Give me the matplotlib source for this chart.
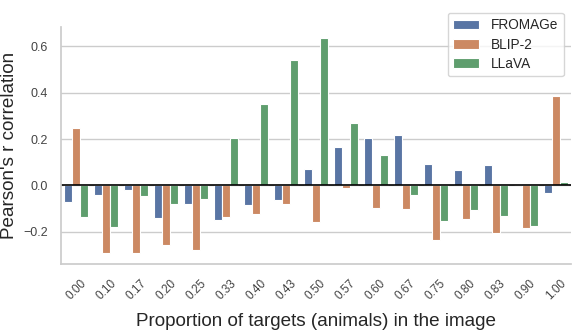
import numpy as np
import pandas as pd
import matplotlib
matplotlib.use("Agg")
import matplotlib.pyplot as plt
import seaborn as sns

# Correlation per proportion bucket
proportions = ["0.00", "0.10", "0.17", "0.20", "0.25", "0.33", "0.40", "0.43", "0.50",
               "0.57", "0.60", "0.67", "0.75", "0.80", "0.83", "0.90", "1.00"]
fromage = [-0.069, -0.040, -0.019, -0.138, -0.081, -0.148, -0.085, -0.063, 0.072,
           0.165, 0.203, 0.217, 0.091, 0.066, 0.089, 0.0, -0.032]
blip2 = [0.249, -0.289, -0.292, -0.256, -0.276, -0.135, -0.122, -0.078, -0.157,
         -0.010, -0.095, -0.099, -0.236, -0.145, -0.206, -0.184, 0.383]
llava = [-0.135, -0.180, -0.045, -0.079, -0.058, 0.206, 0.351, 0.541, 0.635,
         0.268, 0.130, -0.039, -0.153, -0.104, -0.131, -0.174, 0.014]
models = ["FROMAGe", "BLIP-2", "LLaVA"]

df = pd.DataFrame({
    "proportion": proportions * 3,
    "model": np.repeat(models, len(proportions)),
    "r": fromage + blip2 + llava,
})

sns.set_theme(style="whitegrid")
plt.rcParams["font.family"] = ["Liberation Sans", "DejaVu Sans"]

fig = plt.figure(figsize=(5.72, 3.31), dpi=100)
ax = fig.add_axes([0.107, 0.202, 0.891, 0.716])
sns.barplot(data=df, x="proportion", y="r", hue="model", order=proportions,
            hue_order=models, ax=ax, edgecolor="white", linewidth=0.8)
ax.axhline(0, color="black", linewidth=1.2)
sns.despine(ax=ax)
ax.grid(axis="x", visible=False)

ax.set_xlabel("Proportion of targets (animals) in the image", fontsize=13.6, labelpad=8)
ax.set_ylabel("Pearson's r correlation", fontsize=13.6)
ax.tick_params(axis="x", labelsize=8.5, rotation=45, colors="#444444")
ax.tick_params(axis="y", labelsize=9, colors="#444444")
ax.legend(loc="upper right", fontsize=9.8, bbox_to_anchor=(1.0, 1.09),
          handlelength=1.9, handletextpad=0.9, labelspacing=0.4)

fig.savefig("out.png", dpi=100)
